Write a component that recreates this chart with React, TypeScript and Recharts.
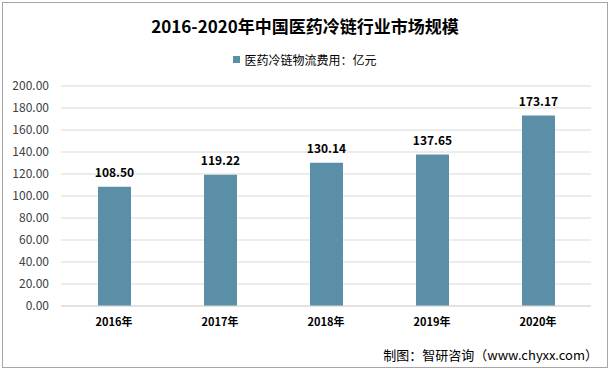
import React from 'react';
import { BarChart, Bar, XAxis, YAxis, CartesianGrid, LabelList } from 'recharts';

const years = ['2016年', '2017年', '2018年', '2019年', '2020年'];
const costs = [108.5, 119.22, 130.14, 137.65, 173.17];
const yTicks = [0, 20, 40, 60, 80, 100, 120, 140, 160, 180, 200];

const data = years.map((year, i) => ({ year, cost: costs[i] }));

const font = '"Microsoft YaHei", "Noto Sans CJK SC", "Liberation Sans", sans-serif';

export default function App() {
    return (
        <div style={{ position: 'absolute', left: 0, top: 0, width: 610, height: 369, background: '#fff', fontFamily: font }}>
            <div style={{ position: 'absolute', left: 2, top: 2, width: 604, height: 364, border: '1px solid #a6a6a6' }} />
            <div style={{ position: 'absolute', top: 13, width: 610, textAlign: 'center', fontSize: 17, fontWeight: 'bold', color: '#000' }}>
                2016-2020年中国医药冷链行业市场规模
            </div>
            <div style={{ position: 'absolute', top: 51, width: 610, display: 'flex', alignItems: 'center', justifyContent: 'center', fontSize: 12, color: '#000' }}>
                <span style={{ width: 7, height: 7, background: '#5B8FA8', marginRight: 4, display: 'inline-block' }} />
                医药冷链物流费用：亿元
            </div>
            <BarChart width={610} height={369} data={data} margin={{ top: 86, right: 19, bottom: 33, left: 0 }} style={{ position: 'absolute', left: 0, top: 0 }}>
                <CartesianGrid vertical={false} stroke="#d9d9d9" />
                <YAxis
                    width={61}
                    domain={[0, 200]}
                    ticks={yTicks}
                    interval={0}
                    axisLine={false}
                    tickLine={false}
                    tickFormatter={(v: number) => v.toFixed(2)}
                    tick={{ fontSize: 12, fill: '#404040', fontFamily: font }}
                    dx={-4}
                />
                <XAxis
                    dataKey="year"
                    height={30}
                    axisLine={{ stroke: '#d9d9d9' }}
                    tickLine={false}
                    interval={0}
                    tick={{ fontSize: 11, fill: '#000', fontWeight: 'bold', fontFamily: font }}
                    dy={4}
                />
                <Bar dataKey="cost" fill="#5B8FA8" barSize={33} isAnimationActive={false}>
                    <LabelList
                        dataKey="cost"
                        position="top"
                        offset={10}
                        formatter={(v: number) => v.toFixed(2)}
                        style={{ fontSize: 12, fontWeight: 'bold', fill: '#000', fontFamily: font }}
                    />
                </Bar>
            </BarChart>
            <div style={{ position: 'absolute', right: 12, top: 345, fontSize: 13, color: '#000' }}>
                制图：智研咨询（www.chyxx.com）
            </div>
        </div>
    );
}
